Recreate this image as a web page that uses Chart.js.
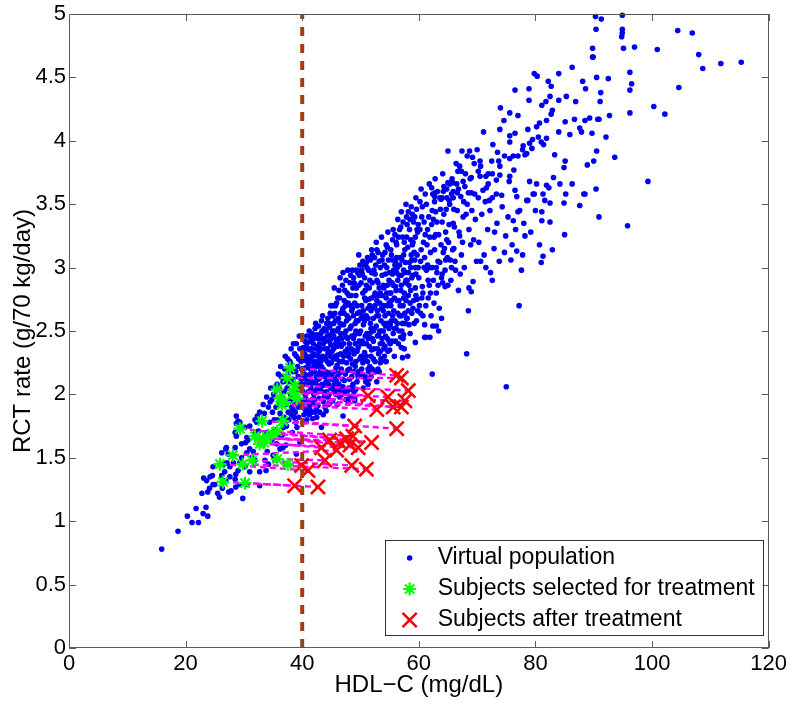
<!DOCTYPE html>
<html>
<head>
<meta charset="utf-8">
<title>RCT rate vs HDL-C</title>
<script src="https://cdn.jsdelivr.net/npm/chart.js@4.4.1/dist/chart.umd.min.js"></script>
<style>
  html, body { margin: 0; padding: 0; background: #fff; }
  #wrap { width: 792px; height: 707px; }
</style>
</head>
<body>
<div id="wrap"><canvas id="rct-chart" width="792" height="707"></canvas></div>
<script>
// virtual population: [HDL-C (mg/dL), RCT rate (g/70 kg/day)]
const virtualPop = [
  [15.9,0.78],[18.7,0.92],[20.3,1.04],[21.1,0.99],[22.2,0.99],[21.8,1.10],[23.0,1.06],[23.5,1.11],[23.8,1.04],
  [22.8,1.22],[23.8,1.23],[24.1,1.26],[24.7,1.29],[25.5,1.22],[25.8,1.19],[26.3,1.26],[27.4,1.23],[27.8,1.24],
  [28.6,1.27],[29.8,1.18],[32.7,1.28],[23.1,1.34],[24.6,1.36],[25.0,1.29],[26.2,1.36],[26.7,1.39],[26.9,1.32],
  [27.6,1.35],[26.5,1.45],[27.1,1.46],[27.6,1.43],[28.2,1.46],[28.6,1.37],[28.5,1.33],[29.0,1.40],[30.5,1.29],
  [29.3,1.29],[27.3,1.53],[26.9,1.57],[26.2,1.54],[28.7,1.67],[28.5,1.70],[29.6,1.50],[29.3,1.46],[30.2,1.43],
  [30.5,1.54],[31.0,1.57],[31.6,1.55],[30.3,1.62],[30.7,1.64],[31.3,1.50],[31.9,1.48],[31.0,1.39],[32.7,1.39],
  [33.8,1.40],[33.6,1.48],[34.2,1.45],[31.9,1.69],[32.5,1.71],[34.8,1.64],[35.6,1.61],[36.2,1.57],[36.7,1.58],
  [39.0,1.53],[28.7,1.77],[29.3,1.78],[30.2,1.74],[32.2,1.78],[24.7,1.43],[24.2,1.35],[23.6,1.32],[27.0,1.58],
  [28.5,1.58],[29.6,1.61],[30.5,1.66],[31.0,1.75],[31.9,1.80],[32.3,1.83],[32.7,1.86],[28.7,1.83],[29.0,1.79],
  [33.9,1.98],[34.5,1.94],[33.3,1.92],[38.7,2.32],[40.2,2.37],[40.5,2.42],[41.3,2.46],[42.5,2.47],[43.6,2.50],[44.7,2.53],
  // 33 - 40
  [33.2,1.62],[33.9,1.70],[34.4,1.78],[34.9,1.86],[35.3,1.72],[35.8,1.80],[36.1,1.92],[36.6,1.68],[36.9,2.02],
  [37.3,1.75],[37.6,1.86],[37.9,1.95],[38.2,2.10],[38.6,1.82],[38.9,2.18],[39.3,1.90],[39.5,2.05],[39.8,2.26],
  [35.1,2.00],[35.7,2.08],[36.4,2.14],[37.0,2.20],[37.5,2.28],[38.1,2.36],[34.0,1.55],[35.0,1.52],[36.0,1.66],
  [37.2,1.60],[38.3,1.70],[39.1,1.74],[39.6,1.62],[33.5,1.85],[34.6,2.05],[36.8,1.74],[38.8,2.00],[39.9,2.12],
  [38.4,1.88],[38.9,1.78],[39.2,2.22],[39.7,1.95],
  [36.0,2.05],[36.2,1.85],[36.3,2.22],[36.5,1.98],[36.7,2.10],[36.9,1.82],[37.1,2.30],[37.2,1.92],[37.4,2.05],
  [37.6,2.16],[37.7,1.80],[37.9,2.26],[38.0,2.00],[38.2,1.90],[38.3,2.18],[38.5,2.40],[38.6,2.08],[38.8,1.86],
  [39.0,2.30],[39.1,2.02],[39.3,2.14],[39.4,1.82],[39.6,2.36],[39.8,1.92],[39.9,2.20],[35.5,1.90],[35.9,2.16],
  [34.8,1.96],[35.2,1.80],[34.2,1.90],[38.0,2.24],[38.4,2.12],[38.7,1.94],[39.0,2.40],[39.4,2.28],[39.7,2.08],
  [37.5,2.10],[38.1,1.84],[39.5,2.46],
  // 40 - 45
  [40.1,1.78],[40.3,1.95],[40.4,2.08],[40.6,2.21],[40.7,2.30],[40.9,1.86],[41.0,2.02],[41.1,2.15],[41.3,2.35],
  [41.4,1.92],[41.6,2.26],[41.7,2.10],[41.8,1.81],[41.9,2.40],[42.0,2.00],[42.1,2.18],[42.3,2.31],[42.4,1.88],
  [42.6,2.07],[42.7,2.44],[42.8,2.24],[42.9,1.97],[43.0,2.13],[43.2,2.36],[43.3,1.74],[43.4,2.50],[43.5,2.02],
  [43.6,2.20],[43.8,2.29],[43.9,1.90],[44.0,2.42],[44.1,2.10],[44.2,2.56],[44.4,1.98],[44.5,2.33],[44.6,2.17],
  [44.8,2.47],[44.9,2.05],[45.0,2.25],[45.1,2.62],[40.2,2.14],[40.8,2.40],[41.2,1.84],[41.5,2.05],[42.2,2.52],
  [42.5,1.82],[43.1,2.44],[43.7,2.07],[44.3,2.26],[44.7,1.93],[40.5,1.88],[41.0,2.28],[41.8,2.20],[42.6,2.38],
  [43.4,2.16],[44.1,1.87],[44.9,2.39],[43.0,2.28],[42.0,1.93],[40.9,2.12],[40.0,2.03],[40.3,2.27],[40.6,1.97],
  [40.8,1.80],[41.1,2.36],[41.4,2.20],[41.7,1.96],[41.9,2.09],[42.2,2.26],[42.4,2.14],[42.7,1.91],[42.9,2.34],
  [43.1,2.05],[43.3,2.22],[43.6,2.40],[43.8,1.98],[44.0,2.18],[44.3,2.46],[44.5,2.08],[44.8,2.30],
  [40.1,2.20],[40.2,1.90],[40.4,2.32],[40.5,2.00],[40.7,2.12],[40.8,2.46],[41.0,1.94],[41.1,2.24],[41.2,2.08],
  [41.4,2.42],[41.5,2.16],[41.6,1.86],[41.8,2.30],[41.9,2.02],[42.0,2.44],[42.1,1.96],[42.3,2.10],[42.4,2.36],
  [42.6,2.22],[42.7,2.02],[42.8,2.54],[43.0,1.86],[43.1,2.18],[43.2,2.48],[43.4,2.08],[43.5,2.30],[43.7,1.94],
  [43.8,2.52],[43.9,2.14],[44.0,2.28],[44.2,2.02],[44.3,2.36],[44.4,2.60],[44.6,2.24],[44.7,2.42],[44.9,2.12],
  [40.6,2.36],[41.3,1.88],[41.7,2.48],[42.2,1.86],[42.9,2.16],[43.3,2.58],[43.6,1.84],[44.1,2.50],[44.5,1.92],
  [44.8,2.64],[40.3,1.84],[41.9,2.32],[43.0,2.40],[44.6,2.00],[40.0,2.46],[40.4,2.16],[40.9,2.26],[41.2,2.50],
  [41.6,2.36],[42.0,2.22],[42.3,2.56],[42.5,2.04],[42.8,2.12],[43.2,2.26],[43.5,2.62],[43.9,2.36],[44.2,2.14],
  [44.6,2.56],[44.9,2.70],[40.7,1.90],[41.5,2.30],[42.7,2.30],[43.7,2.44],[44.4,2.32],
  // 45 - 50
  [45.2,1.95],[45.3,2.12],[45.4,2.36],[45.5,2.50],[45.6,2.02],[45.7,2.70],[45.8,2.21],[45.9,2.43],[46.0,1.92],
  [46.1,2.31],[46.2,2.60],[46.3,2.08],[46.4,2.76],[46.5,2.17],[46.6,2.48],[46.7,2.38],[46.8,2.00],[46.9,2.66],
  [47.0,2.26],[47.1,2.55],[47.2,2.11],[47.3,2.82],[47.4,2.34],[47.5,1.96],[47.6,2.45],[47.7,2.62],[47.8,2.19],
  [47.9,2.72],[48.0,2.05],[48.1,2.40],[48.2,2.88],[48.3,2.28],[48.4,2.54],[48.5,2.14],[48.6,2.68],[48.7,2.35],
  [48.8,2.92],[48.9,2.02],[49.0,2.47],[49.1,2.22],[49.2,2.78],[49.3,2.58],[49.4,2.10],[49.5,2.96],[49.6,2.37],
  [49.7,3.10],[49.8,2.65],[49.9,2.28],[45.3,2.62],[45.9,2.28],[46.2,2.05],[46.7,2.55],[47.1,2.40],[47.6,2.25],
  [48.0,2.60],[48.4,2.78],[48.9,2.32],[49.3,2.84],[46.0,2.50],[47.4,2.70],[48.7,2.08],[45.6,2.30],[49.8,2.48],
  [46.5,2.92],[47.8,2.98],[49.0,1.95],[48.2,1.98],[45.0,2.44],[45.1,2.15],[45.4,2.56],[45.7,2.40],[46.0,2.23],
  [46.3,2.44],[46.6,2.32],[46.9,2.12],[47.2,2.64],[47.5,2.50],[47.8,2.36],[48.1,2.20],[48.5,2.46],[48.8,2.62],
  [49.1,2.40],[49.4,2.70],[49.7,2.18],
  [45.1,2.34],[45.2,2.70],[45.3,2.04],[45.4,2.46],[45.6,2.18],[45.7,2.58],[45.8,2.00],[45.9,2.72],[46.0,2.38],
  [46.1,2.14],[46.2,2.52],[46.3,2.82],[46.4,2.26],[46.5,2.02],[46.6,2.64],[46.7,2.20],[46.8,2.44],[46.9,2.86],
  [47.0,2.06],[47.1,2.30],[47.2,2.74],[47.3,2.48],[47.4,2.16],[47.5,2.90],[47.6,2.58],[47.7,2.02],[47.8,2.44],
  [47.9,2.30],[48.0,2.78],[48.1,2.12],[48.2,2.52],[48.3,2.94],[48.4,2.36],[48.5,2.66],[48.6,2.06],[48.7,2.84],
  [48.8,2.44],[48.9,2.18],[49.0,2.72],[49.1,2.56],[49.2,2.04],[49.3,2.98],[49.4,2.34],[49.5,2.64],[49.6,2.14],
  [49.7,2.86],[49.8,2.42],[49.9,3.02],[45.5,2.84],[46.4,1.98],[47.0,2.96],[47.9,1.94],[48.6,2.98],[49.2,2.26],
  [45.2,2.50],[45.3,2.28],[45.6,2.64],[45.9,2.10],[46.1,2.76],[46.5,2.56],[46.8,2.26],[47.0,2.68],[47.3,2.02],
  [47.7,2.80],[48.0,2.32],[48.3,2.70],[48.6,2.24],[48.9,2.88],[49.2,2.50],[49.5,2.16],[49.8,2.94],[45.5,2.08],
  [46.4,2.40],[47.6,2.72],[48.4,2.04],[49.6,2.58],
  // 50 - 55
  [50.0,2.15],[50.1,2.40],[50.2,2.70],[50.3,2.95],[50.4,2.25],[50.5,2.55],[50.6,3.02],[50.7,2.33],[50.8,2.82],
  [50.9,2.10],[51.0,2.62],[51.1,2.48],[51.2,3.08],[51.3,2.20],[51.4,2.75],[51.5,2.38],[51.6,2.90],[51.7,2.56],
  [51.8,2.14],[51.9,3.14],[52.0,2.44],[52.1,2.68],[52.2,2.28],[52.3,2.98],[52.4,2.52],[52.5,2.80],[52.6,2.18],
  [52.7,3.20],[52.8,2.62],[52.9,2.36],[53.0,2.88],[53.1,2.47],[53.2,3.05],[53.3,2.72],[53.4,2.25],[53.5,2.58],
  [53.6,3.24],[53.7,2.94],[53.8,2.40],[53.9,2.66],[54.0,2.84],[54.1,2.30],[54.2,3.12],[54.3,2.54],[54.4,2.76],
  [54.5,3.00],[54.6,2.44],[54.7,3.28],[54.8,2.64],[54.9,2.90],[50.3,2.62],[51.0,2.30],[51.8,2.66],[52.4,3.08],
  [53.0,2.20],[53.6,2.50],[54.2,2.38],[50.8,2.46],[52.0,2.88],[54.6,2.70],[51.4,2.98],[53.4,2.80],[50.5,2.05],
  [52.8,2.10],[55.0,2.35],[50.1,2.30],[50.4,2.80],[50.7,2.58],[51.0,2.86],[51.3,2.44],[51.6,2.70],[51.9,2.35],
  [52.2,2.60],[52.5,2.95],[52.8,2.74],[53.1,2.62],[53.4,2.40],[53.7,2.78],[54.0,2.56],[54.3,2.95],[54.6,2.86],
  [54.9,2.52],[51.3,2.08],[49.0,1.97],[47.0,1.83],
  [50.0,2.50],[50.1,2.88],[50.2,2.20],[50.3,2.42],[50.4,3.05],[50.5,2.66],[50.6,2.28],[50.7,2.92],[50.8,2.14],
  [50.9,2.74],[51.0,2.40],[51.1,3.00],[51.2,2.26],[51.3,2.60],[51.4,2.18],[51.5,2.84],[51.6,2.48],[51.7,3.06],
  [51.8,2.30],[51.9,2.76],[52.0,2.20],[52.1,2.96],[52.2,2.50],[52.3,2.36],[52.4,2.78],[52.5,2.26],[52.6,3.02],
  [52.7,2.54],[52.8,2.90],[52.9,2.66],[53.0,3.12],[53.1,2.32],[53.2,2.84],[53.3,2.50],[53.4,3.00],[53.5,2.28],
  [53.6,2.68],[53.7,2.44],[53.8,3.10],[53.9,2.86],[54.0,2.36],[54.1,3.02],[54.2,2.62],[54.3,2.46],[54.4,3.18],
  [54.5,2.80],[54.6,2.56],[54.7,2.34],[54.8,3.06],[54.9,2.72],[50.2,2.98],[51.5,2.12],[52.0,3.10],[53.2,2.18],
  [54.4,2.26],[50.1,2.60],[50.4,2.14],[50.7,2.76],[51.0,3.04],[51.3,2.68],[51.6,2.22],[51.9,2.96],[52.2,2.42],
  [52.5,2.70],[52.8,3.14],[53.1,2.78],[53.4,2.34],[53.7,3.06],[54.0,2.70],[54.3,2.26],[54.6,3.16],[54.9,2.42],
  [50.6,2.40],[51.8,2.52],[52.9,2.46],[53.9,2.50],
  // 55 - 60
  [55.1,2.55],[55.2,2.80],[55.3,3.10],[55.4,2.42],[55.5,2.95],[55.6,3.30],[55.7,2.66],[55.8,2.30],[55.9,3.02],
  [56.0,2.85],[56.1,2.52],[56.2,3.18],[56.3,2.74],[56.4,3.38],[56.5,2.40],[56.6,2.94],[56.7,2.62],[56.8,3.08],
  [56.9,2.82],[57.0,3.44],[57.1,2.50],[57.2,3.24],[57.3,2.70],[57.4,2.98],[57.5,2.36],[57.6,3.14],[57.7,2.88],
  [57.8,3.50],[57.9,2.60],[58.0,3.34],[58.2,2.78],[58.4,3.04],[58.5,2.48],[58.6,3.22],[58.8,2.92],[58.9,3.42],
  [59.0,2.68],[59.2,3.12],[59.4,2.84],[59.5,3.55],[59.6,2.58],[59.8,3.28],[59.9,3.00],[55.5,2.62],[56.0,3.05],
  [56.9,2.45],[57.5,2.80],[58.3,2.55],[58.7,3.10],[59.3,3.40],[58.1,2.30],[58.0,2.90],[59.7,2.75],[55.3,2.74],
  [55.6,2.86],[55.9,2.58],[56.2,2.96],[56.6,2.74],[57.0,2.62],[57.4,3.10],[57.8,2.74],[58.2,2.96],[58.6,2.82],
  [59.0,3.20],[59.5,2.95],[57.2,2.29],[57.0,2.37],[57.4,2.47],[59.4,2.41],
  [55.0,2.96],[55.1,2.40],[55.2,3.14],[55.3,2.58],[55.4,2.88],[55.5,3.22],[55.6,2.48],[55.7,2.98],[55.8,2.76],
  [55.9,3.26],[56.0,2.42],[56.1,2.82],[56.2,3.08],[56.3,2.56],[56.4,2.90],[56.5,3.24],[56.6,2.50],[56.7,3.02],
  [56.8,2.70],[56.9,3.32],[57.0,2.86],[57.1,3.06],[57.2,2.56],[57.3,3.36],[57.4,2.76],[57.5,3.20],[57.6,2.64],
  [57.7,3.04],[57.8,2.90],[57.9,3.40],[58.0,2.60],[58.1,3.16],[58.2,3.44],[58.3,2.86],[58.4,3.30],[58.5,2.72],
  [58.6,3.00],[58.7,3.48],[58.8,2.64],[58.9,3.18],[59.0,2.94],[59.1,3.36],[59.2,2.56],[59.3,3.06],[59.4,3.24],
  [59.5,2.78],[59.6,3.46],[59.7,3.10],[59.8,2.66],[59.9,3.34],[55.2,2.70],[55.5,3.06],[55.8,2.52],[56.1,3.20],
  [56.4,2.64],[56.7,3.30],[57.0,2.94],[57.3,2.44],[57.6,2.96],[57.9,3.24],[58.2,2.66],[58.5,3.38],[58.8,3.06],
  [59.1,2.74],[59.4,3.00],[59.7,3.30],[55.0,2.80],[56.3,3.00],[57.7,2.56],
  // 60 - 70
  [60.1,2.70],[60.3,3.05],[60.5,3.40],[60.6,2.85],[60.8,3.20],[61.0,2.55],[61.1,3.58],[61.3,2.98],[61.5,3.30],
  [61.6,2.76],[61.8,3.66],[62.0,3.12],[62.1,2.62],[62.3,3.45],[62.5,2.90],[62.6,3.24],[62.8,3.70],[63.0,2.80],
  [63.1,3.36],[63.3,3.05],[63.5,2.68],[63.6,3.55],[63.8,3.18],[64.0,2.95],[64.1,3.74],[64.3,3.42],[64.5,2.85],
  [64.6,3.28],[64.8,3.62],[64.9,3.08],[60.4,3.62],[61.2,2.45],[62.4,2.54],[63.9,2.60],[61.9,3.00],[60.9,3.00],
  [62.7,3.52],[61.0,2.45],[61.9,2.45],[63.4,2.50],[63.0,2.54],[62.3,2.16],[62.2,3.63],[62.7,3.56],[64.2,3.60],
  [64.0,3.55],[62.8,3.59],[64.8,3.55],[65.2,3.53],[65.9,3.55],[65.0,3.92],[65.8,3.67],[65.0,3.67],[65.9,3.60],
  [66.6,3.59],[66.7,3.76],[67.3,3.76],[67.9,3.64],[67.6,3.68],[68.5,3.59],[69.0,3.59],[69.0,3.71],[68.7,3.92],
  [68.3,3.88],[69.2,3.87],[65.1,3.20],[65.3,3.50],[65.5,2.90],[65.7,3.70],[65.9,3.35],[66.2,3.05],[66.4,3.82],
  [66.6,3.45],[66.8,2.82],[67.0,3.25],[67.2,3.56],[67.4,3.92],[67.6,3.40],[67.8,3.00],[68.0,3.74],[68.2,2.32],
  [68.3,3.50],[68.5,2.66],[68.6,3.30],[68.9,3.18],[69.1,3.45],[69.3,2.89],[69.5,3.82],[69.7,3.38],[69.9,3.05],
  [69.0,2.81],[68.6,2.84],[66.0,3.15],[67.1,2.95],[64.4,3.15],[60.7,2.62],
  [60.0,2.92],[60.2,3.30],[60.3,2.64],[60.4,3.14],[60.6,3.48],[60.7,2.80],[60.9,3.36],[61.0,3.08],[61.2,2.70],
  [61.3,3.50],[61.4,3.18],[61.6,2.90],[61.7,3.40],[61.9,3.24],[62.0,2.80],[62.2,3.34],[62.3,3.00],[62.4,3.58],
  [62.6,2.72],[62.7,3.14],[62.9,3.44],[63.0,3.00],[63.2,3.60],[63.3,2.86],[63.4,3.26],[63.6,3.04],[63.7,3.46],
  [63.9,2.92],[64.0,3.36],[64.2,3.12],[64.3,3.64],[64.5,2.98],[64.7,3.46],[64.8,3.22],[65.0,2.86],[65.2,3.34],
  [65.4,3.06],[65.6,3.58],[65.8,3.14],[66.0,3.46],[66.3,2.98],[66.5,3.66],[66.9,3.28],[67.3,3.10],[67.7,3.52],
  [60.5,2.76],[61.1,3.26],[61.8,2.86],[62.5,3.38],[63.1,2.96],[63.8,3.54],[64.6,3.06],[65.3,3.66],[66.1,3.32],
  [66.8,3.62],[67.5,3.20],[68.1,3.42],[68.8,3.70],[69.4,3.22],[60.2,3.52],[61.5,3.02],[62.9,3.26],[64.1,2.88],
  [65.6,3.00],[67.0,3.80],
  // 70 - 90
  [71.5,3.00],[72.6,2.90],[72.3,2.96],[74.7,3.12],[75.8,3.06],[76.8,3.13],[77.8,3.10],[77.6,2.98],[78.2,3.25],
  [80.7,3.18],[81.0,3.04],[81.3,3.09],[82.9,3.14],[85.0,3.26],[77.2,2.70],[75.0,2.06],[70.0,3.93],[70.5,3.84],
  [70.6,3.80],[70.2,3.76],[72.5,3.84],[73.7,3.84],[73.9,3.80],[71.9,3.74],[72.6,3.74],[76.3,3.77],[71.5,3.72],
  [73.9,3.73],[70.5,3.72],[73.3,3.69],[75.6,3.72],[75.5,3.68],[79.0,3.68],[80.2,3.66],[83.1,3.71],[81.9,3.65],
  [82.3,3.63],[84.9,3.79],[85.1,3.84],[83.3,3.89],[88.9,3.81],[90.0,3.84],[90.5,3.92],[86.3,3.66],[85.2,3.58],
  [88.5,3.58],[81.3,3.58],[81.6,3.53],[79.6,3.58],[78.5,3.53],[76.5,3.61],[76.8,3.56],[74.2,3.57],[73.3,3.58],
  [72.6,3.55],[72.1,3.53],[71.9,3.66],[71.6,3.63],[71.0,3.61],[69.6,3.58],[70.2,3.55],[72.7,3.97],[73.5,3.91],
  [77.0,3.88],[78.2,3.89],[78.5,3.90],[76.2,3.88],[75.6,3.86],[74.7,3.88],[77.9,3.96],[77.8,3.93],[79.5,4.01],
  [79.0,3.98],[79.4,3.94],[81.0,3.99],[81.4,3.97],[80.5,4.03],[81.9,4.02],[84.0,4.07],[85.9,4.05],[87.6,4.10],
  [87.9,4.07],[75.6,4.04],[75.6,3.99],[76.5,4.06],[73.9,4.09],[71.1,4.07],[78.7,4.09],[80.2,4.11],[80.7,4.14],
  [74.6,4.16],[77.0,4.20],[75.6,4.22],[74.0,4.26],[81.9,4.16],[85.1,4.15],[86.7,4.17],[88.5,4.16],[89.3,4.18],
  [90.7,4.17],[82.9,4.24],[82.7,4.21],[81.1,4.28],[81.8,4.31],[82.5,4.35],[84.0,4.32],[85.3,4.35],[86.9,4.31],
  [78.9,4.32],[78.9,4.41],[76.5,4.40],[88.6,4.41],[88.1,4.47],[82.7,4.43],[82.2,4.47],[79.8,4.53],[80.3,4.51],
  [84.0,4.53],[86.3,4.58],[89.8,4.66],[89.8,4.73],[76.2,3.37],[77.0,3.44],[78.7,3.53],[79.8,3.58],[84.2,3.66],
  [90.9,3.40],[82.5,3.36],[81.1,3.44],[81.1,3.37],[82.5,3.51],[84.9,3.51],[87.6,3.49],[88.3,3.58],
  [70.3,3.20],[70.8,3.42],[71.2,3.10],[71.8,3.30],[72.2,3.45],[72.9,3.15],[73.4,3.35],[73.8,3.05],[74.3,3.48],
  [74.9,3.25],[75.3,3.40],[76.0,3.18],[76.6,3.30],[77.3,3.45],[78.0,3.35],[79.2,3.28],[80.0,3.45],[70.6,3.05],
  [71.4,3.52],[73.0,3.28],
  // 90 +
  [90.3,4.98],[91.3,4.96],[94.9,4.99],[90.4,4.88],[94.9,4.88],[94.9,4.85],[94.8,4.82],[95.1,4.73],[97.0,4.74],
  [100.9,4.72],[104.4,4.87],[106.9,4.85],[108.0,4.68],[108.7,4.57],[111.8,4.61],[115.3,4.62],[104.6,4.42],
  [100.3,4.27],[102.2,4.21],[96.2,4.22],[96.2,4.40],[96.5,4.45],[96.2,4.54],[93.6,3.87],[99.3,3.68],[92.1,4.03],
  [89.9,4.66],[90.5,4.50],[92.5,4.49],[91.2,4.38],[91.1,4.31],[90.9,4.17],[92.7,4.20],[90.4,3.62],[95.8,3.33],
  [89.7,4.06]
];

// subjects selected for treatment (HDL-C < 40) and the same subjects after treatment
const selectedHdl = [37.9,37.4,38.7,35.7,38.4,36.2,39.1,37.0,36.5,33.1,36.7,35.7,34.8,29.3,33.3,31.9,34.0,32.7,33.5,28.1,35.7,31.4,37.5,29.8,25.9,26.4,30.2];
const selectedRct = [2.21,2.13,2.07,2.04,2.01,1.97,1.97,1.94,1.92,1.79,1.79,1.71,1.69,1.73,1.65,1.67,1.66,1.61,1.62,1.52,1.49,1.48,1.45,1.45,1.45,1.31,1.30];
const treatedHdl  = [56.2,57.0,58.2,51.3,54.7,57.6,55.6,57.0,52.8,49.0,56.2,48.7,47.6,51.9,44.7,46.5,48.2,49.6,43.3,45.9,43.9,48.5,39.9,51.0,41.0,38.7,42.7];
const treatedRct  = [2.15,2.13,2.03,1.99,1.98,1.95,1.90,1.90,1.88,1.75,1.73,1.67,1.65,1.62,1.64,1.62,1.60,1.58,1.58,1.56,1.48,1.44,1.44,1.41,1.40,1.28,1.27];

// HDL-C cut-off used for selection
const hdlCutoff = 40;
const cutoffRange = [0, 5];

const xTicks = [0, 20, 40, 60, 80, 100, 120];
const yTicks = [0, 0.5, 1, 1.5, 2, 2.5, 3, 3.5, 4, 4.5, 5];

const FONT = '"Liberation Sans", Arial, Helvetica, sans-serif';

const zip = (xs, ys) => xs.map((x, i) => ({ x: x, y: ys[i] }));

const datasets = [];

datasets.push({
  label: 'Virtual population',
  data: virtualPop.map(p => ({ x: p[0], y: p[1] })),
  pointStyle: 'circle',
  pointRadius: 2.8,
  pointBorderWidth: 0,
  backgroundColor: '#0000f0',
  borderColor: '#0000f0',
  clip: false,
  order: 4,
  inLegend: true
});

// dashed link from each selected subject to its treated value
selectedHdl.forEach((h, i) => {
  datasets.push({
    label: 'link' + i,
    data: [{ x: h, y: selectedRct[i] }, { x: treatedHdl[i], y: treatedRct[i] }],
    showLine: true,
    pointRadius: 0,
    borderColor: '#ff00ff',
    borderWidth: 2.4,
    borderDash: [6, 4],
    order: 3
  });
});

datasets.push({
  label: 'Subjects selected for treatment',
  data: zip(selectedHdl, selectedRct),
  pointStyle: 'star',
  pointRadius: 6.5,
  pointBorderWidth: 2.2,
  borderColor: '#00ff00',
  backgroundColor: '#00ff00',
  order: 2,
  inLegend: true
});

datasets.push({
  label: 'Subjects after treatment',
  data: zip(treatedHdl, treatedRct),
  pointStyle: 'crossRot',
  pointRadius: 10,
  pointBorderWidth: 2.6,
  borderColor: '#ff0000',
  backgroundColor: '#ff0000',
  order: 1,
  inLegend: true
});

datasets.push({
  label: 'cutoff',
  data: cutoffRange.map(v => ({ x: hdlCutoff, y: v })),
  showLine: true,
  pointRadius: 0,
  borderColor: '#a33d0e',
  borderWidth: 4,
  borderDash: [9, 8],
  order: 0
});

// MATLAB-like box with inward ticks on all four sides
const matlabFrame = {
  id: 'matlabFrame',
  afterDatasetsDraw(chart) {
    const { ctx, chartArea: a, scales } = chart;
    const tick = 7;
    ctx.save();
    ctx.strokeStyle = '#5a5a5a';
    ctx.lineWidth = 1;
    ctx.strokeRect(Math.round(a.left) + 0.5, Math.round(a.top) + 0.5,
      Math.round(a.width) - 1, Math.round(a.height) - 1);
    ctx.beginPath();
    xTicks.forEach(v => {
      const px = Math.round(scales.x.getPixelForValue(v)) + 0.5;
      ctx.moveTo(px, a.bottom); ctx.lineTo(px, a.bottom - tick);
      ctx.moveTo(px, a.top); ctx.lineTo(px, a.top + tick);
    });
    yTicks.forEach(v => {
      const py = Math.round(scales.y.getPixelForValue(v)) + 0.5;
      ctx.moveTo(a.left, py); ctx.lineTo(a.left + tick, py);
      ctx.moveTo(a.right, py); ctx.lineTo(a.right - tick, py);
    });
    ctx.stroke();
    ctx.restore();
  }
};

// legend box in the lower right corner of the axes
const legendBox = {
  id: 'legendBox',
  afterDraw(chart) {
    const { ctx, chartArea: a } = chart;
    const items = chart.data.datasets.filter(d => d.inLegend);
    const w = 378, h = 95;
    const right = a.right - 6, bottom = a.bottom - 13;
    const left = right - w, top = bottom - h;
    ctx.save();
    ctx.fillStyle = '#fff';
    ctx.fillRect(left, top, w, h);
    ctx.strokeStyle = '#333';
    ctx.lineWidth = 1;
    ctx.strokeRect(Math.round(left) + 0.5, Math.round(top) + 0.5, w, h);
    items.forEach((d, i) => {
      const y = top + 18 + i * 31;
      ctx.strokeStyle = d.borderColor;
      ctx.fillStyle = d.backgroundColor;
      ctx.lineWidth = d.pointBorderWidth || 1;
      Chart.helpers.drawPoint(ctx, {
        pointStyle: d.pointStyle,
        radius: d.pointRadius,
        rotation: 0,
        borderWidth: d.pointBorderWidth
      }, left + 25, y);
      ctx.fillStyle = '#000';
      ctx.font = '23px ' + FONT;
      ctx.textBaseline = 'middle';
      ctx.textAlign = 'left';
      ctx.fillText(d.label, left + 53, y);
    });
    ctx.restore();
  }
};

new Chart(document.getElementById('rct-chart'), {
  type: 'scatter',
  data: { datasets: datasets },
  options: {
    responsive: false,
    devicePixelRatio: 1,
    animation: false,
    events: [],
    layout: { padding: { top: 12, right: 23, left: 0, bottom: 0 } },
    plugins: {
      legend: { display: false },
      tooltip: { enabled: false }
    },
    scales: {
      x: {
        type: 'linear',
        min: 0,
        max: 120,
        afterBuildTicks: s => { s.ticks = xTicks.map(v => ({ value: v })); },
        afterFit: s => { s.height = 59; },
        grid: { display: false, drawTicks: false },
        border: { display: false },
        ticks: {
          color: '#000',
          padding: 5,
          maxRotation: 0,
          font: { family: FONT, size: 22, lineHeight: 1 }
        },
        title: {
          display: true,
          text: 'HDL\u2212C (mg/dL)',
          color: '#000',
          padding: { top: 0, bottom: 7 },
          font: { family: FONT, size: 24 }
        }
      },
      y: {
        type: 'linear',
        min: 0,
        max: 5,
        afterBuildTicks: s => { s.ticks = yTicks.map(v => ({ value: v })); },
        afterFit: s => { s.width = 69; },
        grid: { display: false, drawTicks: false },
        border: { display: false },
        ticks: {
          color: '#000',
          padding: 3,
          font: { family: FONT, size: 22, lineHeight: 1 },
          callback: v => String(v)
        },
        title: {
          display: true,
          text: 'RCT rate (g/70 kg/day)',
          color: '#000',
          padding: { top: 9, bottom: 0 },
          font: { family: FONT, size: 24 }
        }
      }
    }
  },
  plugins: [matlabFrame, legendBox]
});
</script>
</body>
</html>
